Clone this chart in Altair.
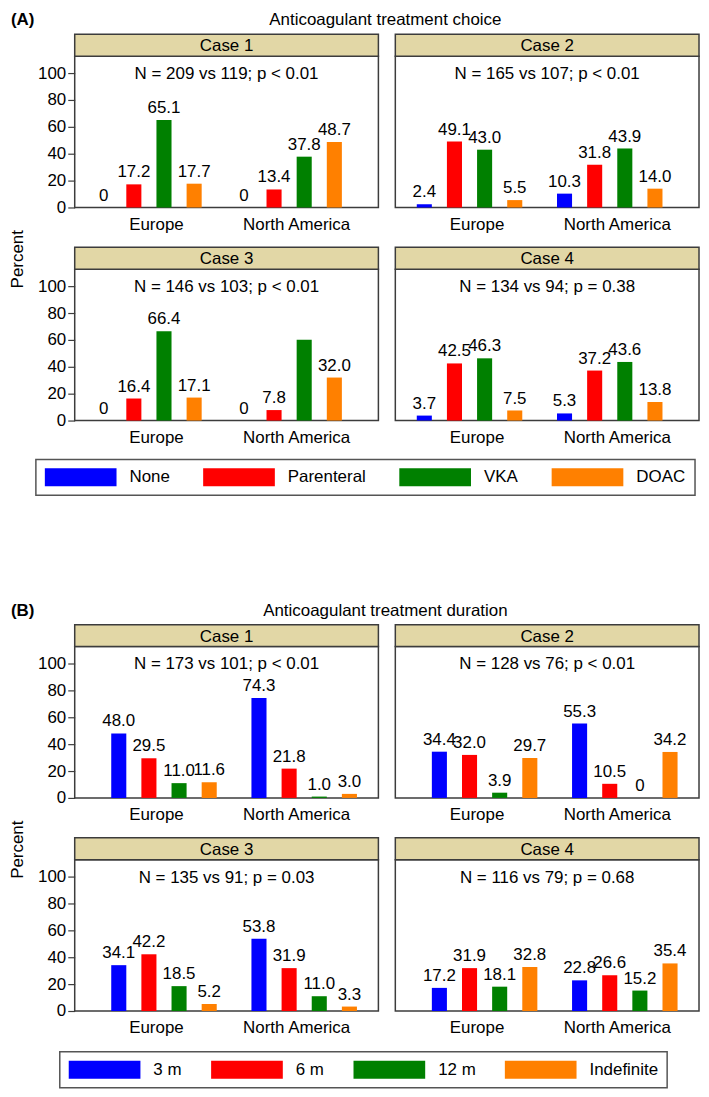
import altair as alt
import pandas as pd

FONT = "Liberation Sans"
FS = 17
TAN = "#E2D7A6"
FRAME = "#3c3c3c"
W = 305
H = 152
HEAD = 22
YMAX = 112.6

regions = ["Europe", "North America"]
cases = ["Case 1", "Case 2", "Case 3", "Case 4"]
colors = ["#0000FF", "#FF0000", "#008000", "#FF8000"]

# (A) Anticoagulant treatment choice
choice_cats = ["None", "Parenteral", "VKA", "DOAC"]
choice_europe = [
    [0, 17.2, 65.1, 17.7],
    [2.4, 49.1, 43.0, 5.5],
    [0, 16.4, 66.4, 17.1],
    [3.7, 42.5, 46.3, 7.5],
]
choice_namerica = [
    [0, 13.4, 37.8, 48.7],
    [10.3, 31.8, 43.9, 14.0],
    [0, 7.8, 60.2, 32.0],
    [5.3, 37.2, 43.6, 13.8],
]
choice_notes = [
    "N = 209 vs 119; p < 0.01",
    "N = 165 vs 107; p < 0.01",
    "N = 146 vs 103; p < 0.01",
    "N = 134 vs 94; p = 0.38",
]
choice_unlabelled = [("Case 3", "North America", "VKA")]

# (B) Anticoagulant treatment duration
duration_cats = ["3 m", "6 m", "12 m", "Indefinite"]
duration_europe = [
    [48.0, 29.5, 11.0, 11.6],
    [34.4, 32.0, 3.9, 29.7],
    [34.1, 42.2, 18.5, 5.2],
    [17.2, 31.9, 18.1, 32.8],
]
duration_namerica = [
    [74.3, 21.8, 1.0, 3.0],
    [55.3, 10.5, 0, 34.2],
    [53.8, 31.9, 11.0, 3.3],
    [22.8, 26.6, 15.2, 35.4],
]
duration_notes = [
    "N = 173 vs 101; p < 0.01",
    "N = 128 vs 76; p < 0.01",
    "N = 135 vs 91; p = 0.03",
    "N = 116 vs 79; p = 0.68",
]
duration_unlabelled = []


def make_df(cats, eu, na, hidden):
    rows = []
    for ci, case in enumerate(cases):
        for region, vals in (("Europe", eu[ci]), ("North America", na[ci])):
            for cat, v in zip(cats, vals):
                lab = "0" if v == 0 else f"{v:.1f}"
                if (case, region, cat) in hidden:
                    lab = ""
                rows.append(dict(case=case, region=region, cat=cat, value=v, label=lab))
    return pd.DataFrame(rows)


def make_legend(lx, ly, colpad):
    # swatch 72 x 18: path spans x in [-1, 7], y in [-1, 1], scaled by sqrt(size)/2 = 9
    return alt.Legend(
        orient="none", legendX=lx, legendY=ly, direction="horizontal", title=None,
        symbolType="M-1,-1L7,-1L7,1L-1,1Z", symbolSize=324,
        symbolStrokeWidth=0, symbolOpacity=1,
        labelFontSize=FS, labelFont=FONT, labelColor="black", labelOffset=67,
        columnPadding=colpad, padding=9, strokeColor="#555555", fillColor="white",
    )


def panel(df, case, note, cats, legend, show_y):
    sub = df[df["case"] == case]
    info = pd.DataFrame({"case": [case], "note": [note]})
    x = alt.X(
        "region:N", sort=regions, title=None,
        scale=alt.Scale(type="band", paddingInner=0.14, paddingOuter=0.153),
        axis=alt.Axis(ticks=False, domain=False, labelAngle=0, labelPadding=9,
                      labelFontSize=FS, labelFont=FONT, labelColor="black", grid=False),
    )
    xo = alt.XOffset("cat:N", sort=cats,
                     scale=alt.Scale(type="band", paddingInner=0, paddingOuter=0))
    if show_y:
        yaxis = alt.Axis(values=[0, 20, 40, 60, 80, 100], tickSize=7, tickColor=FRAME,
                         tickWidth=1.2, domain=False, grid=False, labelPadding=2,
                         labelFontSize=FS, labelFont=FONT, labelColor="black")
    else:
        yaxis = None
    y = alt.Y("value:Q", title=None, scale=alt.Scale(domain=[0, YMAX], nice=False), axis=yaxis)
    bars = alt.Chart(sub).mark_bar(width=alt.RelativeBandSize(1)).encode(
        x=x, xOffset=xo, y=y,
        color=alt.Color("cat:N", sort=cats, scale=alt.Scale(domain=cats, range=colors), legend=legend),
    )
    labels = alt.Chart(sub).mark_text(
        baseline="alphabetic", dy=-7, fontSize=FS, font=FONT, color="black"
    ).encode(x=x, xOffset=xo, y=y, text="label:N")
    head = alt.Chart(info).mark_rect(fill=TAN, stroke=FRAME, strokeWidth=1.5).encode(
        x=alt.value(0), x2=alt.value(W), y=alt.value(-HEAD), y2=alt.value(0)
    )
    head_text = alt.Chart(info).mark_text(
        baseline="alphabetic", align="center", fontSize=FS, font=FONT, color="black"
    ).encode(x=alt.value(W / 2), y=alt.value(-5), text="case:N")
    note_text = alt.Chart(info).mark_text(
        baseline="alphabetic", align="center", fontSize=FS, font=FONT, color="black"
    ).encode(x=alt.value(W / 2), y=alt.value(23), text="note:N")
    return alt.layer(head, bars, labels, head_text, note_text).properties(
        width=W, height=H, view=alt.ViewBackground(stroke=FRAME, strokeWidth=1.5)
    )


def title_chart(letter, text):
    info = pd.DataFrame({"letter": [letter], "title": [text]})
    l = alt.Chart(info).mark_text(
        align="left", baseline="alphabetic", fontSize=FS, fontWeight="bold", font=FONT, color="black"
    ).encode(x=alt.value(0), y=alt.value(14), text="letter:N")
    t = alt.Chart(info).mark_text(
        align="center", baseline="alphabetic", fontSize=FS, font=FONT, color="black"
    ).encode(x=alt.value(376), y=alt.value(14), text="title:N")
    return alt.layer(l, t).properties(width=600, height=18, view=alt.ViewBackground(stroke="transparent"))


def percent_chart():
    info = pd.DataFrame({"t": ["Percent"]})
    return alt.Chart(info).mark_text(
        angle=270, align="center", baseline="middle", fontSize=FS, font=FONT, color="black"
    ).encode(x=alt.value(7), y=alt.value(204), text="t:N").properties(
        width=14, height=300, view=alt.ViewBackground(stroke="transparent")
    )


def section(letter, title, df, cats, notes, legend):
    ps = [panel(df, c, n, cats, legend, i % 2 == 0) for i, (c, n) in enumerate(zip(cases, notes))]
    row1 = alt.hconcat(ps[0], ps[1], spacing=13)
    row2 = alt.hconcat(ps[2], ps[3], spacing=13)
    grid = alt.vconcat(row1, row2, spacing=12)
    body = alt.hconcat(percent_chart(), grid, spacing=9)
    return alt.vconcat(title_chart(letter, title), body, spacing=2)


df_a = make_df(choice_cats, choice_europe, choice_namerica, choice_unlabelled)
df_b = make_df(duration_cats, duration_europe, duration_namerica, duration_unlabelled)

sec_a = section("(A)", "Anticoagulant treatment choice", df_a, choice_cats, choice_notes,
                make_legend(25, 450, 33))
sec_b = section("(B)", "Anticoagulant treatment duration", df_b, duration_cats, duration_notes,
                make_legend(49, 452, 29))

chart = alt.vconcat(sec_a, sec_b, spacing=105).resolve_scale(color="independent").properties(
    padding=0
).configure(font=FONT).configure_legend(strokeWidth=1.5)

chart.save("out.html", embed_options={"renderer": "svg", "actions": False})
